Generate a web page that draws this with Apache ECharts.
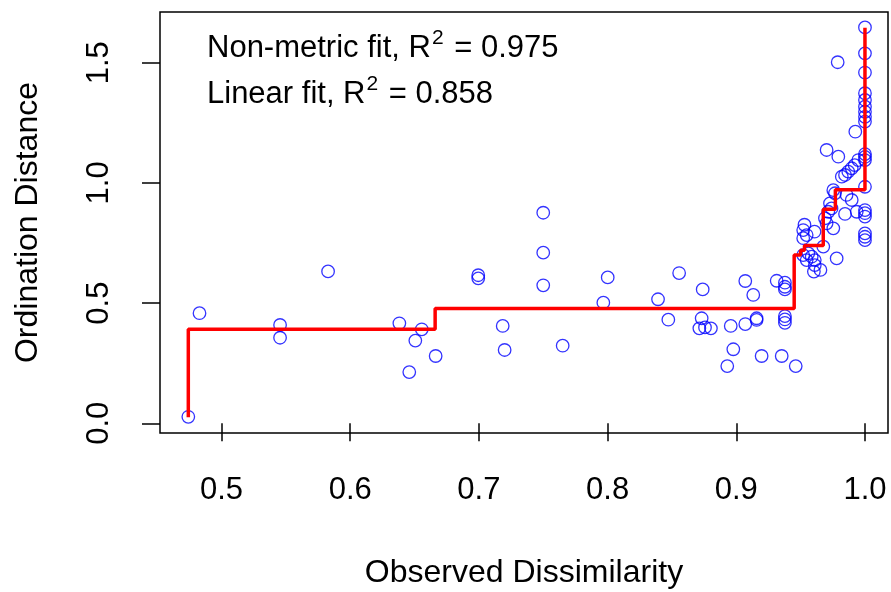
<!DOCTYPE html>
<html>
<head>
<meta charset="utf-8">
<script src="https://cdn.jsdelivr.net/npm/echarts@6/dist/echarts.min.js"></script>
<style>
html,body{margin:0;padding:0;background:#fff;}
#chart{width:891px;height:592px;}
</style>
</head>
<body>
<div id="chart"></div>
<script>
// Observed dissimilarity (x) and ordination distance (y) for each pair
const observedDissimilarity = [
  0.4742, 0.4829, 0.5455, 0.5455, 0.5828, 0.6382, 0.6459, 0.6506, 0.6556, 0.6664,
  0.6995, 0.6995, 0.7185, 0.7200, 0.7500, 0.7500, 0.7500, 0.7651, 0.7967, 0.8001,
  0.8392, 0.8472, 0.8556, 0.8739, 0.8731, 0.8713, 0.8757, 0.8803, 0.8930, 0.8957,
  0.8977, 0.9070, 0.9070, 0.9132, 0.9158, 0.9158, 0.9197, 0.9314, 0.9353, 0.9378,
  0.9378, 0.9378, 0.9378, 0.9378, 0.9378, 0.9462, 0.9520, 0.9560, 0.9586, 0.9547,
  0.9610, 0.9610, 0.9654, 0.9603, 0.9530, 0.9520, 0.9547, 0.9520, 0.9608, 0.9702,
  0.9754, 0.9676, 0.9780, 0.9689, 0.9728, 0.9740, 0.9715, 0.9845, 0.9754, 0.9767,
  0.9857, 0.9897, 0.9820, 0.9845, 0.9870, 0.9897, 0.9920, 0.9948, 0.9702, 0.9793,
  0.9925, 0.9788, 0.9936,
  1.0, 1.0, 1.0, 1.0, 1.0, 1.0, 1.0, 1.0, 1.0, 1.0,
  1.0, 1.0, 1.0, 1.0, 1.0, 1.0, 1.0, 1.0, 1.0
];
const ordinationDistance = [
  0.027, 0.458, 0.409, 0.356, 0.632, 0.416, 0.213, 0.344, 0.391, 0.280,
  0.616, 0.603, 0.405, 0.305, 0.876, 0.710, 0.574, 0.323, 0.502, 0.607,
  0.516, 0.431, 0.625, 0.557, 0.437, 0.395, 0.399, 0.395, 0.238, 0.405,
  0.308, 0.413, 0.592, 0.534, 0.437, 0.430, 0.280, 0.593, 0.280, 0.585,
  0.568, 0.557, 0.446, 0.432, 0.418, 0.238, 0.700, 0.707, 0.693, 0.679,
  0.679, 0.658, 0.638, 0.631, 0.826, 0.804, 0.783, 0.770, 0.797, 0.832,
  0.811, 0.735, 0.686, 0.853, 0.915, 0.894, 0.880, 0.871, 0.970, 0.957,
  0.950, 0.929, 1.026, 1.033, 1.047, 1.061, 1.074, 1.095, 1.137, 1.109,
  1.213, 1.502, 0.880,
  1.647, 1.539, 1.459, 1.373, 1.345, 1.317, 1.296, 1.275, 1.255, 1.120,
  1.108, 1.095, 0.984, 0.887, 0.874, 0.860, 0.790, 0.776, 0.762
];
// Monotone (non-metric) step fit: knots of the step function
const stepDissimilarity = [0.4742, 0.6660, 0.9450, 0.9500, 0.9530, 0.9676, 0.9770, 1.0, 1.0];
const stepFitted        = [0.025,  0.391,  0.478,  0.700,  0.720,  0.740,  0.890,  0.972, 1.645];

const xTicks = [0.5, 0.6, 0.7, 0.8, 0.9, 1.0];
const yTicks = [0.0, 0.5, 1.0, 1.5];
const fitLines = ['Non-metric fit, R', '2', ' = 0.975', 'Linear fit, R', '2', ' = 0.858'];

const FONT = '"Liberation Sans", Arial, sans-serif';
const chart = echarts.init(document.getElementById('chart'), null, {renderer: 'canvas'});

const points = observedDissimilarity.map((x, i) => [x, ordinationDistance[i]]);
const stepData = stepDissimilarity.map((x, i) => [x, stepFitted[i]]);

const richStyle = {
  a: {fontSize: 31, fontFamily: FONT, color: '#000', lineHeight: 36, verticalAlign: 'bottom'},
  s: {fontSize: 21, fontFamily: FONT, color: '#000', lineHeight: 36, verticalAlign: 'top', padding: [0, 2, 0, 1]}
};

chart.setOption({
  animation: false,
  backgroundColor: '#fff',
  grid: {
    left: 160, top: 12, right: 3, bottom: 159,
    show: true, borderColor: '#000', borderWidth: 1.5,
    containLabel: false, outerBoundsMode: 'none'
  },
  xAxis: {
    type: 'value', min: 0.4522, max: 1.0179,
    name: 'Observed Dissimilarity', nameLocation: 'middle', nameGap: 124,
    nameTextStyle: {fontSize: 32, fontFamily: FONT, color: '#000'},
    axisLine: {show: false},
    axisTick: {show: true, inside: false, length: 18, customValues: xTicks, lineStyle: {color: '#000', width: 1.5}},
    axisLabel: {customValues: xTicks, margin: 42, fontSize: 31, fontFamily: FONT, color: '#000',
      formatter: v => v.toFixed(1)},
    splitLine: {show: false}
  },
  yAxis: {
    type: 'value', min: -0.0403, max: 1.711,
    name: 'Ordination Distance', nameLocation: 'middle', nameGap: 116, nameRotate: 90,
    nameTextStyle: {fontSize: 32, fontFamily: FONT, color: '#000'},
    axisLine: {show: false},
    axisTick: {show: true, inside: false, length: 18, customValues: yTicks, lineStyle: {color: '#000', width: 1.5}},
    axisLabel: {customValues: yTicks, margin: 45, rotate: 90, fontSize: 31, fontFamily: FONT, color: '#000',
      formatter: v => v.toFixed(1)},
    splitLine: {show: false}
  },
  series: [
    {
      type: 'scatter', data: points, symbol: 'circle', symbolSize: 12.5,
      itemStyle: {color: 'rgba(0,0,0,0)', borderColor: '#0000ff', borderWidth: 1.3},
      z: 2
    },
    {
      type: 'line', data: stepData, step: 'start', showSymbol: false, symbol: 'none',
      lineStyle: {color: '#ff0000', width: 3.5}, z: 3
    }
  ],
  graphic: [
    {type: 'text', left: 207, top: 28, z: 10,
      style: {text: '{a|' + fitLines[0] + '}{s|' + fitLines[1] + '}{a|' + fitLines[2] + '}', rich: richStyle}},
    {type: 'text', left: 207, top: 74, z: 10,
      style: {text: '{a|' + fitLines[3] + '}{s|' + fitLines[4] + '}{a|' + fitLines[5] + '}', rich: richStyle}}
  ]
});
</script>
</body>
</html>
